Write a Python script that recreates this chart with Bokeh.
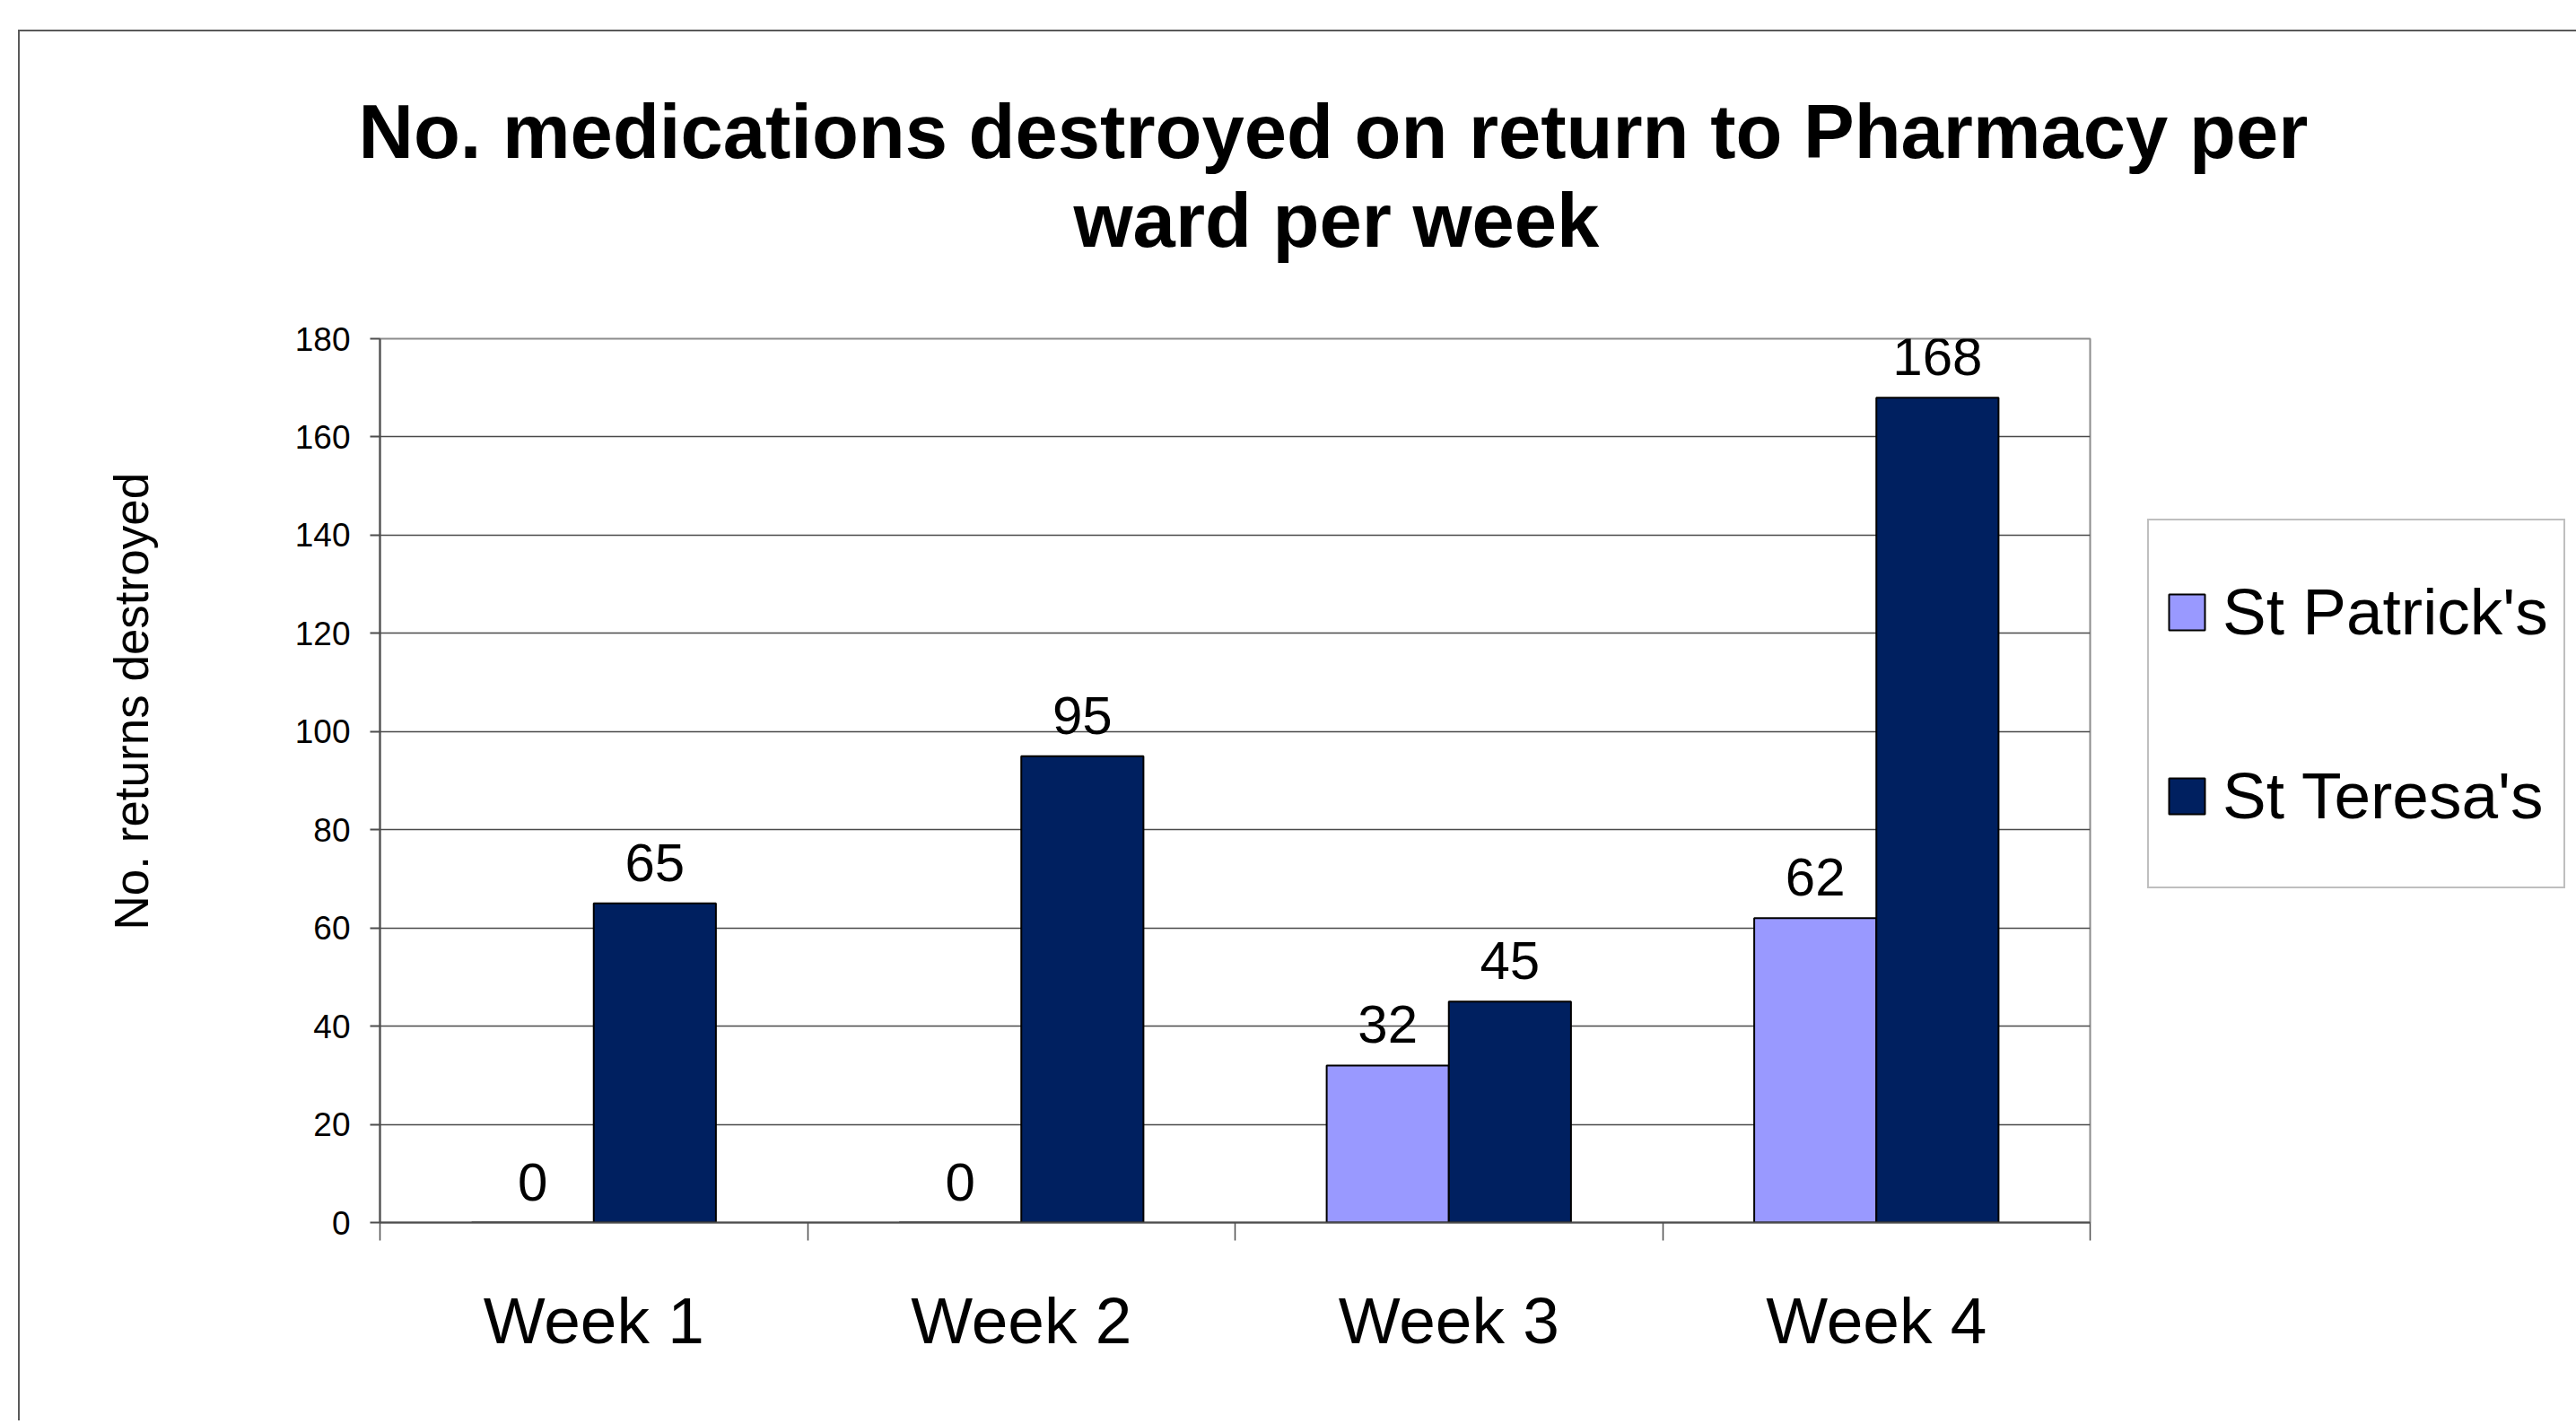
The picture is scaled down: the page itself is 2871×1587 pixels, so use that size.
from bokeh.plotting import figure
from bokeh.models import (ColumnDataSource, Range1d, FixedTicker, LinearAxis,
                          Legend, LegendItem, LabelSet, Title)
from bokeh.transform import dodge
from bokeh.core.properties import value
from bokeh.embed import file_html
from bokeh.resources import INLINE

# ---- data ----
weeks = ["Week 1", "Week 2", "Week 3", "Week 4"]
st_patricks = [0, 0, 32, 62]
st_teresas = [65, 95, 45, 168]
series_names = ["St Patrick's", "St Teresa's"]
y_ticks = [0, 20, 40, 60, 80, 100, 120, 140, 160, 180]
title_lines = ["No. medications destroyed on return to Pharmacy per", "ward per week"]
y_label = "No. returns destroyed"

FONT = "Liberation Sans"
BAR_W = 1 / 3.5
C_PAT = "#9999FF"
C_TER = "#002060"

idx = list(range(len(weeks)))
src = ColumnDataSource(dict(
    xc=[i + 0.5 for i in idx],
    pat=st_patricks,
    ter=st_teresas,
    pat_txt=[str(v) for v in st_patricks],
    ter_txt=[str(v) for v in st_teresas],
))

p = figure(x_range=Range1d(0, len(weeks)), y_range=Range1d(0, y_ticks[-1]),
           frame_width=1906, frame_height=985,
           min_border_left=401, min_border_right=538,
           min_border_top=342, min_border_bottom=221,
           output_backend="svg", toolbar_location=None, tools="",
           title=None,
           background_fill_color="white", border_fill_color="white",
           margin=(33, 0, 0, 20))
p.styles = {"border-top": "2px solid #5a5a5a", "border-left": "2px solid #5a5a5a"}

p.outline_line_color = "#8c8c8c"
p.outline_line_width = 2

# bars
x_pat = dodge("xc", -BAR_W / 2, range=p.x_range)
x_ter = dodge("xc", BAR_W / 2, range=p.x_range)
r1 = p.vbar(x=x_pat, top="pat", width=BAR_W, source=src,
            fill_color=C_PAT, line_color="black", line_width=2)
r2 = p.vbar(x=x_ter, top="ter", width=BAR_W, source=src,
            fill_color=C_TER, line_color="black", line_width=2)

# value labels
for xx, col in ((x_pat, "pat"), (x_ter, "ter")):
    p.add_layout(LabelSet(x=xx, y=col, text=col + "_txt", source=src,
                          text_align="center", text_baseline="alphabetic",
                          y_offset=25, text_font=value(FONT),
                          text_font_size="60px", text_color="black"))

# grid
p.xgrid.visible = False
p.ygrid.ticker = FixedTicker(ticks=y_ticks[1:-1])
p.ygrid.grid_line_color = "#4a4a4a"
p.ygrid.grid_line_width = 1.5

# y axis
ya = p.yaxis[0]
ya.ticker = FixedTicker(ticks=y_ticks)
ya.major_label_text_font = FONT
ya.major_label_text_font_size = "37px"
ya.major_label_text_color = "black"
ya.major_label_standoff = 22
ya.major_tick_out = 11
ya.major_tick_in = 0
ya.minor_tick_line_color = None
ya.axis_line_color = "#4d4d4d"
ya.axis_line_width = 2
ya.major_tick_line_color = "#4d4d4d"
ya.major_tick_line_width = 2
# the label sits above the axis centre in the original: pad its start
ya.axis_label = "\u00a0" * 12 + y_label
ya.axis_label_text_font = FONT
ya.axis_label_text_font_size = "53px"
ya.axis_label_text_font_style = "normal"
ya.axis_label_text_color = "black"
ya.axis_label_standoff = 150

# x axis: boundary ticks
xa = p.xaxis[0]
xa.ticker = FixedTicker(ticks=list(range(len(weeks) + 1)))
xa.major_label_overrides = {i: "" for i in range(len(weeks) + 1)}
xa.major_label_text_font_size = "1px"
xa.major_label_standoff = 0
xa.major_tick_out = 20
xa.major_tick_in = 0
xa.minor_tick_line_color = None
xa.axis_line_color = "#4d4d4d"
xa.axis_line_width = 2
xa.major_tick_line_color = "#4d4d4d"
xa.major_tick_line_width = 1.5

# x axis: category labels
xa2 = LinearAxis(ticker=FixedTicker(ticks=[i + 0.5 for i in idx]),
                 major_label_overrides={i + 0.5: w for i, w in zip(idx, weeks)})
xa2.axis_line_color = None
xa2.major_tick_line_color = None
xa2.minor_tick_line_color = None
xa2.major_tick_out = 0
xa2.major_tick_in = 0
xa2.major_label_standoff = 48
xa2.major_label_text_font = FONT
xa2.major_label_text_font_size = "73px"
xa2.major_label_text_color = "black"
p.add_layout(xa2, "below")

# titles (spacer keeps the two lines close while leaving room above the frame)
spacer = Title(text=" ", text_font_size="2px", standoff=81)
p.add_layout(spacer, "above")
t2 = Title(text=title_lines[1], align="left", offset=773, standoff=0,
           text_font=FONT, text_font_size="85px", text_font_style="bold",
           text_color="black")
p.add_layout(t2, "above")
t1 = Title(text=title_lines[0], align="left", offset=-24, standoff=4,
           text_font=FONT, text_font_size="85px", text_font_style="bold",
           text_color="black")
p.add_layout(t1, "above")

# legend
legend = Legend(items=[LegendItem(label=series_names[0], renderers=[r1]),
                       LegendItem(label=series_names[1], renderers=[r2])],
                location=(64, 372), orientation="vertical",
                label_text_font=FONT, label_text_font_size="73px",
                label_text_color="black",
                label_standoff=15, glyph_width=50, glyph_height=50,
                label_height=169, spacing=36, padding=17, margin=0,
                border_line_color="#808080", border_line_width=2,
                background_fill_color="white", background_fill_alpha=1.0)
p.add_layout(legend, "right")

open("out.html", "w").write(file_html(p, INLINE))
